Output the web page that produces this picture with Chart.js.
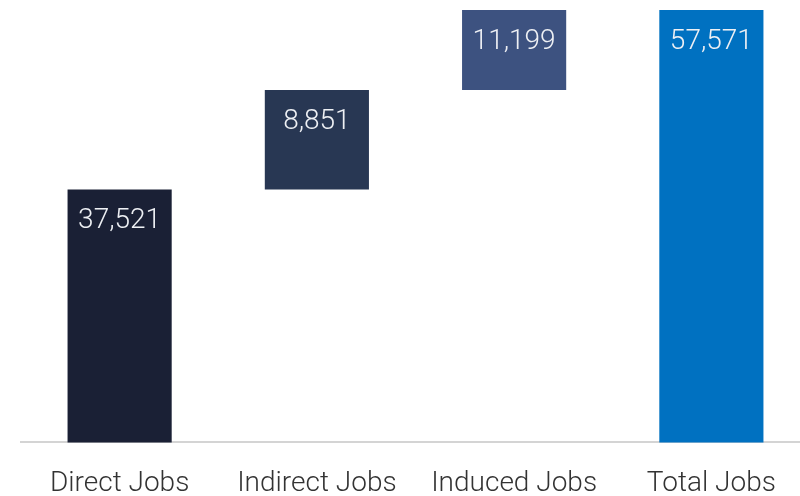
<!DOCTYPE html>
<html>
<head>
<meta charset="utf-8">
<script src="https://cdn.jsdelivr.net/npm/chart.js@4/dist/chart.umd.min.js"></script>
<style>
    html, body { margin: 0; padding: 0; background: #fff; overflow: hidden; }
    #wrap { width: 810px; height: 526px; }
</style>
</head>
<body>
<div id="wrap"><canvas id="jobsChart"></canvas></div>
<script>
// Chart data
const categories = ['Direct Jobs', 'Indirect Jobs', 'Induced Jobs', 'Total Jobs'];
const jobValues = [37521, 8851, 11199, 57571];
const barColors = ['#1a2035', '#283753', '#3d5280', '#0071c1'];
const isTotal = [false, false, false, true];

// Build floating ranges for the waterfall
function buildRanges(values) {
    let running = 0;
    return values.map((v, i) => {
        if (isTotal[i]) return [0, v];
        const range = [running, running + v];
        running += v;
        return range;
    });
}

// Draw the value labels inside each bar, near its top
const valueLabels = {
    id: 'valueLabels',
    afterDatasetsDraw(chart) {
        const ctx = chart.ctx;
        const meta = chart.getDatasetMeta(0);
        ctx.save();
        ctx.font = '300 28px Roboto';
        ctx.fillStyle = '#eef0f4';
        ctx.textAlign = 'center';
        ctx.textBaseline = 'middle';
        meta.data.forEach((bar, i) => {
            const top = Math.max(bar.y, chart.chartArea.top);
            ctx.fillText(jobValues[i].toLocaleString('en-US'), bar.x, top + 32);
        });
        ctx.restore();
    }
};

new Chart(document.getElementById('jobsChart'), {
    type: 'bar',
    data: {
        labels: categories,
        datasets: [{
            data: buildRanges(jobValues),
            backgroundColor: barColors,
            borderWidth: 0,
            categoryPercentage: 1,
            barPercentage: 0.528
        }]
    },
    options: {
        responsive: true,
        maintainAspectRatio: false,
        animation: false,
        layout: { padding: { top: 10, left: 21, right: 0, bottom: 0 } },
        plugins: {
            legend: { display: false },
            tooltip: { enabled: false }
        },
        scales: {
            x: {
                grid: { display: false, drawTicks: false },
                border: { display: true, color: '#d4d4d4', width: 2 },
                ticks: {
                    color: '#333',
                    padding: 25,
                    font: { family: 'Roboto', size: 28, weight: '300' }
                }
            },
            y: {
                display: false,
                min: 15000,
                max: 53500
            }
        }
    },
    plugins: [valueLabels]
});
</script>
</body>
</html>
